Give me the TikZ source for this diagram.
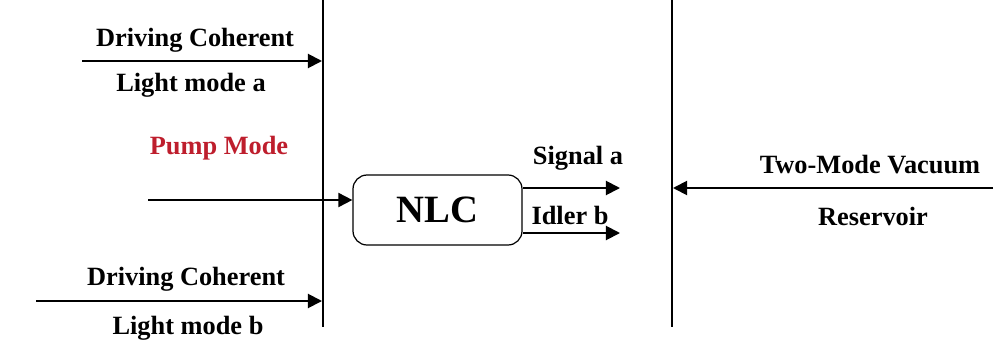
\documentclass[tikz,border=0pt]{standalone}
\usepackage{fontspec}
\setmainfont{Liberation Serif}
\usetikzlibrary{arrows.meta}
\definecolor{pumpred}{RGB}{190,30,45}
\tikzset{
  lbl/.style={font=\fontsize{15}{17}\selectfont\bfseries, inner sep=0pt},
  wall/.style={line width=0.6pt},
  beam/.style={line width=1.1pt, -{Triangle[length=8pt,width=8pt]}},
  crystal/.style={draw, line width=0.7pt, rounded corners=8pt, minimum width=169*0.02cm, minimum height=70*0.02cm, font=\fontsize{22}{24}\selectfont\bfseries}
}
\begin{document}
\begin{tikzpicture}[x=0.02cm,y=-0.02cm]
\useasboundingbox (0,0) rectangle (1000,358);
% walls
\coordinate (w1t) at (323,0); \coordinate (w1b) at (323,327);
\coordinate (w2t) at (672,0); \coordinate (w2b) at (672,327);
\draw[wall] (w1t) -- (w1b);
\draw[wall] (w2t) -- (w2b);
% driving a
\coordinate (da0) at (82,61); \coordinate (da1) at (322,61);
\draw[beam] (da0) -- (da1);
\node[lbl] (dat) at (195,40) {Driving Coherent};
\node[lbl] (dab) at (191,85) {Light mode a};
% pump
\node[lbl, text=pumpred] (pump) at (219,148) {Pump Mode};
\node[crystal] (nlc) at (437.5,210) {NLC};
\coordinate (p0) at (148,200);
\draw[beam] (p0) -- (nlc.west |- p0);
% outputs
\coordinate (s1) at (620,188); \coordinate (i1) at (620,233);
\draw[beam] (nlc.east |- s1) -- (s1);
\draw[beam] (nlc.east |- i1) -- (i1);
\node[lbl] (sig) at (578,158) {Signal a};
\node[lbl] (idl) at (570,215) {Idler b};
% reservoir
\coordinate (r0) at (993,188); \coordinate (r1) at (673,188);
\draw[beam] (r0) -- (r1);
\node[lbl] (rt) at (870,165) {Two-Mode Vacuum};
\node[lbl] (rb) at (873,216) {Reservoir};
% driving b
\coordinate (db0) at (36,301); \coordinate (db1) at (322,301);
\draw[beam] (db0) -- (db1);
\node[lbl] (dbt) at (186,279) {Driving Coherent};
\node[lbl] (dbb) at (188,328) {Light mode b};
\end{tikzpicture}
\end{document}
